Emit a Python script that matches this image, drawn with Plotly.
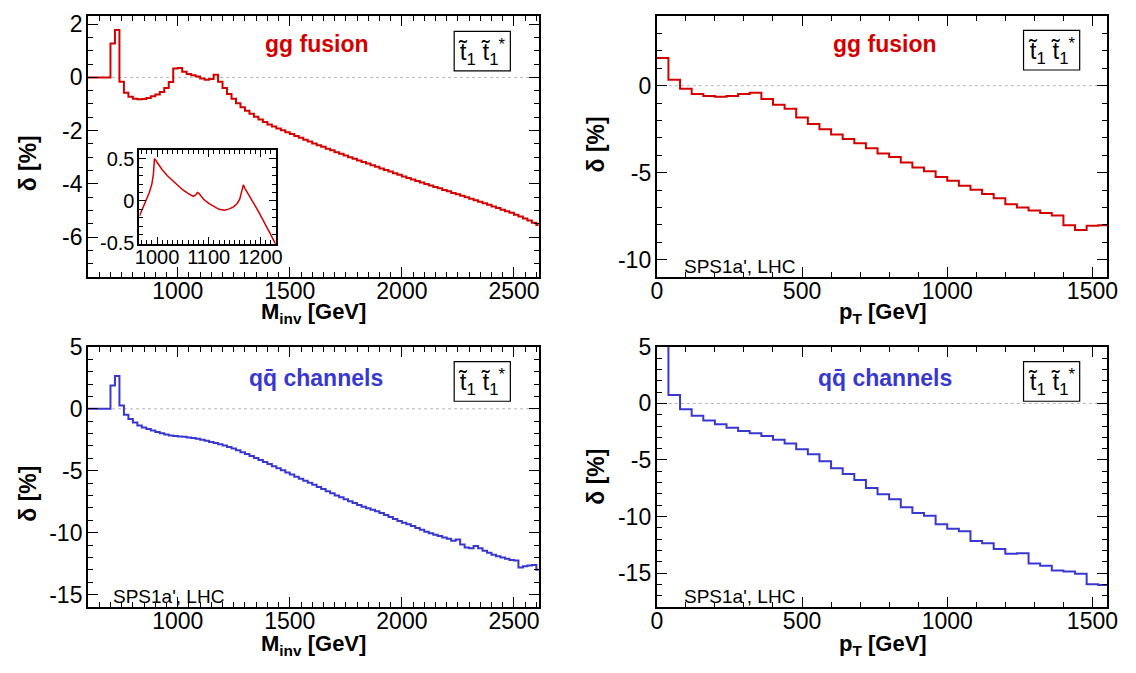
import plotly.graph_objects as go

W, H = 1136, 673
FONT = "Liberation Sans, Arial, Helvetica, sans-serif"
RED = "#d40000"
BLUE = "#3838d0"

# ---------------- data ----------------
# invariant-mass histograms: 20 GeV bins starting at 600 GeV
MINV_START = 600
MINV_BIN = 20
gg_minv = [
    0.00, 0.00, 0.00, 0.00, 0.00,
    1.27, 1.78, -0.16, -0.58, -0.73, -0.80, -0.82, -0.81, -0.77, -0.71,
    -0.64, -0.55, -0.40, -0.17, 0.33, 0.35, 0.21, 0.13, 0.08, 0.03,
    -0.04, -0.09, -0.06, 0.10, -0.16, -0.40, -0.62, -0.80, -0.97, -1.12,
    -1.25, -1.37, -1.48, -1.58, -1.68, -1.77, -1.85, -1.92, -1.99, -2.06,
    -2.13, -2.20, -2.27, -2.34, -2.41, -2.48, -2.55, -2.61, -2.68, -2.74,
    -2.81, -2.87, -2.94, -3.00, -3.06, -3.12, -3.18, -3.24, -3.30, -3.36,
    -3.42, -3.48, -3.54, -3.60, -3.66, -3.72, -3.78, -3.84, -3.89, -3.95,
    -4.01, -4.06, -4.12, -4.17, -4.23, -4.28, -4.34, -4.39, -4.45, -4.50,
    -4.56, -4.62, -4.67, -4.73, -4.79, -4.85, -4.91, -4.97, -5.03, -5.09,
    -5.16, -5.23, -5.30, -5.38, -5.46, -5.55,
]
qq_minv = [
    0.00, 0.00, 0.00, 0.00, 0.00,
    1.89, 2.64, 0.26, -0.47, -0.83, -1.11, -1.35, -1.50, -1.63, -1.76,
    -1.87, -1.97, -2.07, -2.15, -2.20, -2.23, -2.25, -2.31, -2.36, -2.42,
    -2.50, -2.58, -2.67, -2.76, -2.86, -2.96, -3.08, -3.21, -3.35, -3.50,
    -3.65, -3.81, -3.97, -4.13, -4.29, -4.46, -4.63, -4.80, -4.97, -5.14,
    -5.31, -5.48, -5.64, -5.81, -5.97, -6.14, -6.31, -6.48, -6.65, -6.82,
    -6.99, -7.14, -7.30, -7.46, -7.61, -7.77, -7.91, -8.03, -8.15, -8.28,
    -8.42, -8.58, -8.74, -8.89, -9.05, -9.20, -9.33, -9.47, -9.62, -9.77,
    -9.92, -10.05, -10.17, -10.27, -10.38, -10.49, -10.65, -10.55, -10.95, -11.20,
    -11.25, -11.07, -11.25, -11.45, -11.62, -11.79, -11.90, -12.00, -12.10, -12.20,
    -12.25, -12.82, -12.72, -12.65, -12.62, -13.00,
]

# transverse-momentum histograms: 40 GeV bins starting at 0
PT_START = 0
PT_BIN = 40
gg_pt = [
    1.59, 0.35, -0.17, -0.48, -0.59, -0.63, -0.59, -0.48, -0.41, -0.76,
    -1.09, -1.33, -1.83, -2.20, -2.51, -2.81, -3.07, -3.31, -3.59, -3.90,
    -4.10, -4.42, -4.70, -4.92, -5.25, -5.47, -5.75, -5.99, -6.23, -6.47,
    -6.82, -7.01, -7.17, -7.32, -7.47, -8.02, -8.30, -8.06, -8.02,
]
qq_pt = [
    6.50, 0.74, -0.51, -1.08, -1.51, -1.85, -2.16, -2.44, -2.64, -2.87,
    -3.21, -3.55, -4.06, -4.49, -5.11, -5.74, -6.25, -6.76, -7.47, -8.04,
    -8.47, -9.18, -9.69, -9.94, -10.68, -11.08, -11.31, -12.16, -12.36, -12.87,
    -13.30, -13.24, -14.15, -14.35, -14.77, -14.86, -15.06, -15.99, -16.05,
]

# fine-binned gg fusion curve around the thresholds (inset)
inset_m = [966, 970, 975, 980, 985, 990, 993, 995, 997, 1000, 1005, 1010, 1020,
           1030, 1040, 1050, 1060, 1070, 1075, 1078, 1081, 1085, 1090, 1100,
           1110, 1120, 1130, 1140, 1148, 1155, 1160, 1164, 1167, 1170, 1175,
           1180, 1190, 1200, 1210, 1220, 1230]
inset_d = [-0.18, -0.12, -0.05, 0.02, 0.10, 0.20, 0.32, 0.50, 0.49, 0.46, 0.41,
           0.37, 0.30, 0.24, 0.19, 0.13, 0.09, 0.055, 0.07, 0.10, 0.09, 0.055,
           0.02, -0.03, -0.07, -0.10, -0.11, -0.095, -0.07, -0.03, 0.02, 0.10,
           0.19, 0.15, 0.10, 0.05, -0.06, -0.17, -0.28, -0.40, -0.52]

# tick labels
minv_ticks = [1000, 1500, 2000, 2500]
pt_ticks = [0, 500, 1000, 1500]
tl_yticks = [-6, -4, -2, 0, 2]
tr_yticks = [-10, -5, 0]
bl_yticks = [-15, -10, -5, 0, 5]
br_yticks = [-15, -10, -5, 0, 5]
inset_xticks = [1000, 1100, 1200]
inset_yticks = [-0.5, 0, 0.5]


def lab(v):
    return "%g" % v


def px(x):
    return x / W


def py(y):
    return 1 - y / H


def steps(start, width, vals):
    edges = [start + width * i for i in range(len(vals) + 1)]
    return edges, list(vals) + [vals[-1]]


fig = go.Figure()

for (start, width, vals, color, xa, ya) in [
    (MINV_START, MINV_BIN, gg_minv, RED, "x", "y"),
    (PT_START, PT_BIN, gg_pt, RED, "x2", "y2"),
    (MINV_START, MINV_BIN, qq_minv, BLUE, "x3", "y3"),
    (PT_START, PT_BIN, qq_pt, BLUE, "x4", "y4"),
]:
    ex, ey = steps(start, width, vals)
    fig.add_trace(go.Scatter(x=ex, y=ey, mode="lines", line=dict(color=color, width=2, shape="hv"),
                             xaxis=xa, yaxis=ya, showlegend=False, hoverinfo="skip"))

fig.add_trace(go.Scatter(x=inset_m, y=inset_d, mode="lines", line=dict(color=RED, width=1.5),
                         xaxis="x5", yaxis="y5", showlegend=False, hoverinfo="skip"))


def axis(domain, rng, tickvals, minor_dtick, anchor, size=23, ticklen=10, minorlen=5,
         standoff=0):
    return dict(
        domain=domain, range=rng, anchor=anchor,
        tickmode="array", tickvals=tickvals, ticktext=[lab(v) for v in tickvals],
        ticks="inside", ticklen=ticklen, tickwidth=1, tickcolor="black",
        ticklabelstandoff=standoff,
        showline=True, linewidth=2, linecolor="black", mirror="allticks",
        showgrid=False, zeroline=False,
        tickfont=dict(family=FONT, size=size, color="black"),
        minor=dict(ticks="inside", ticklen=minorlen, tickwidth=1, tickcolor="black",
                   tickmode="linear", tick0=0, dtick=minor_dtick, showgrid=False),
    )


# panel frames in pixels: (left, right, top, bottom)
TL = (83.3, 540.7, 3.3, 273.3)
TR = (660.7, 1117.7, 3.3, 273.3)
BL = (83.3, 540.7, 345.7, 615.0)
BR = (660.7, 1117.7, 345.7, 615.0)
INS = (135.5, 274.0, 142.3, 239.0)


def dx(p):
    return [px(p[0]), px(p[1])]


def dy(p):
    return [py(p[3]), py(p[2])]


fig.update_layout(
    width=W, height=H, margin=dict(l=0, r=0, t=0, b=0),
    paper_bgcolor="white", plot_bgcolor="white",
    xaxis=axis(dx(TL), [600, 2610], minv_ticks, 50, "y", standoff=-8),
    yaxis=axis(dy(TL), [-7.5, 2.3], tl_yticks, 0.5, "x", standoff=-1),
    xaxis2=axis(dx(TR), [0, 1550], pt_ticks, 100, "y2", standoff=-8),
    yaxis2=axis(dy(TR), [-11, 4], tr_yticks, 1, "x2", standoff=-1),
    xaxis3=axis(dx(BL), [600, 2610], minv_ticks, 50, "y3", standoff=-8),
    yaxis3=axis(dy(BL), [-16, 5], bl_yticks, 1, "x3", standoff=-1),
    xaxis4=axis(dx(BR), [0, 1550], pt_ticks, 100, "y4", standoff=-8),
    yaxis4=axis(dy(BR), [-18, 5], br_yticks, 1, "x4", standoff=-1),
    xaxis5=axis(dx(INS), [966, 1230], inset_xticks, 10, "y5", size=20, ticklen=7, minorlen=4,
                standoff=-6),
    yaxis5=axis(dy(INS), [-0.51, 0.6], inset_yticks, 0.1, "x5", size=20, ticklen=7, minorlen=4,
                standoff=-1),
)

# dotted zero lines
for xa, ya in [("x", "y"), ("x2", "y2"), ("x3", "y3"), ("x4", "y4")]:
    fig.add_shape(type="line", xref=xa + " domain", yref=ya, x0=0, x1=1, y0=0, y1=0,
                  line=dict(color="#b4b4b4", width=1, dash="dot"), layer="below")

ann = []


def text(x, y, s, size, color="black", bold=False, angle=0, xanchor="center"):
    ann.append(dict(x=px(x), y=py(y), xref="paper", yref="paper", showarrow=False,
                    text=("<b>%s</b>" % s) if bold else s, textangle=angle,
                    xanchor=xanchor, yanchor="middle",
                    font=dict(family=FONT, size=size, color=color)))


# channel labels
text(315, 32, "gg fusion", 23, RED, bold=True)
text(892, 32, "gg fusion", 23, RED, bold=True)
text(315, 378, "qq\u0304 channels", 23, BLUE, bold=True)
text(892, 378, "qq\u0304 channels", 23, BLUE, bold=True)

# process boxes
for (x0, x1, y0, y1) in [(455, 512, 19, 60), (1033, 1090, 18, 59),
                         (455, 512, 361, 402), (1033, 1090, 361, 402)]:
    fig.add_shape(type="rect", xref="paper", yref="paper", x0=px(x0), x1=px(x1),
                  y0=py(y1), y1=py(y0), line=dict(color="black", width=1.2),
                  fillcolor="white")
    text((x0 + x1) / 2, (y0 + y1) / 2 + 1,
         "t\u0303<sub>1</sub> t\u0303<sub>1</sub><sup>*</sup>", 24)

# scenario labels
text(686, 262, "SPS1a', LHC", 19, xanchor="left")
text(107, 604, "SPS1a', LHC", 19, xanchor="left")
text(686, 604, "SPS1a', LHC", 19, xanchor="left")

# axis titles
text(312, 311, "M<sub>inv</sub> [GeV]", 22, bold=True)
text(312, 654, "M<sub>inv</sub> [GeV]", 22, bold=True)
text(890, 311, "p<sub>T</sub> [GeV]", 22, bold=True)
text(890, 654, "p<sub>T</sub> [GeV]", 22, bold=True)
text(22, 156, "\u03b4 [%]", 23, bold=True, angle=-90)
text(599, 136, "\u03b4 [%]", 23, bold=True, angle=-90)
text(22, 498, "\u03b4 [%]", 23, bold=True, angle=-90)
text(599, 480, "\u03b4 [%]", 23, bold=True, angle=-90)

fig.update_layout(annotations=ann)
# the page body gets no default margin so the figure fills the window exactly
fig.write_html("out.html", post_script="document.body.style.margin='0';")
